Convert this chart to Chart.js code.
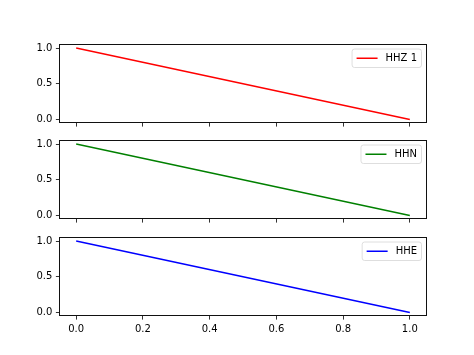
<!DOCTYPE html>
<html>
<head>
<meta charset="utf-8">
<script src="https://cdn.jsdelivr.net/npm/chart.js@4.4.1/dist/chart.umd.min.js"></script>
<style>
html,body{margin:0;padding:0;background:#fff;}
#wrap{position:relative;width:474px;height:355px;overflow:hidden;background:#fff;}
canvas{position:absolute;left:0;}
</style>
</head>
<body>
<div id="wrap">
<canvas id="c0"></canvas>
<canvas id="c1"></canvas>
<canvas id="c2"></canvas>
</div>
<script>
// ---- data ----
const xValues = [0, 1];
const hhzValues = [1, 0];
const hhnValues = [1, 0];
const heeValues = [1, 0];
const seriesLabels = ['HHZ 1', 'HHN', 'HHE'];
const seriesColors = ['#ff0000', '#008000', '#0000ff'];
const xTicks = [0, 0.2, 0.4, 0.6, 0.8, 1.0];
const yTicks = [0, 0.5, 1.0];
const seriesValues = [hhzValues, hhnValues, heeValues];

// ---- layout ----
const W = 474, H = 355;
const axLeft = 59.5, axRight = 426.5;
const panels = [[43, 123], [139, 219], [236, 316]];
const topPad = 8;
const FONT = '"DejaVu Sans", sans-serif';

const framePlugin = {
  id: 'frameLegend',
  afterDraw(chart) {
    const ctx = chart.ctx, ca = chart.chartArea;
    ctx.save();
    ctx.strokeStyle = '#111';
    ctx.lineWidth = 1;
    const l = Math.round(ca.left) - 0.5, t = Math.round(ca.top) - 0.5;
    const r = Math.round(ca.right) - 0.5, b = Math.round(ca.bottom) - 0.5;
    ctx.strokeRect(l, t, r - l, b - t);
    // legend
    const ds = chart.data.datasets[0];
    ctx.font = '10px ' + FONT;
    const tw = ctx.measureText(ds.label).width;
    const pad = 4.5, handle = 21, tpad = 8, h = 18.5;
    const w = pad + handle + tpad + tw + pad;
    const x = ca.right - 5 - w, y = ca.top + 4.5;
    ctx.beginPath();
    ctx.roundRect(x, y, w, h, 2.5);
    ctx.fillStyle = 'rgba(255,255,255,0.8)';
    ctx.fill();
    ctx.strokeStyle = '#d6d6d6';
    ctx.lineWidth = 0.8;
    ctx.stroke();
    const cy = y + h / 2;
    ctx.beginPath();
    ctx.moveTo(x + pad, cy);
    ctx.lineTo(x + pad + handle, cy);
    ctx.strokeStyle = ds.borderColor;
    ctx.lineWidth = 1.5;
    ctx.stroke();
    ctx.fillStyle = '#000';
    ctx.textBaseline = 'middle';
    ctx.textAlign = 'left';
    ctx.fillText(ds.label, x + pad + handle + tpad, cy + 0.5);
    ctx.restore();
  }
};

panels.forEach((p, i) => {
  const cv = document.getElementById('c' + i);
  const isLast = i === panels.length - 1;
  const canvasTop = Math.round(p[0] - topPad);
  const bottomExtra = isLast ? (H - p[1]) : 12;
  const ch = Math.round(p[1] - canvasTop + bottomExtra);
  cv.width = W; cv.height = ch;
  cv.style.top = canvasTop + 'px';
  cv.style.width = W + 'px'; cv.style.height = ch + 'px';
  const padTop = p[0] - canvasTop;
  const xAxisH = ch - padTop - (p[1] - p[0]);

  new Chart(cv, {
    type: 'line',
    data: {
      datasets: [{
        label: seriesLabels[i],
        data: xValues.map((x, k) => ({ x: x, y: seriesValues[i][k] })),
        borderColor: seriesColors[i],
        borderWidth: 1.5,
        pointRadius: 0,
        tension: 0,
        fill: false
      }]
    },
    options: {
      responsive: false,
      animation: false,
      devicePixelRatio: 1,
      layout: { padding: { top: padTop, left: 0, right: W - axRight, bottom: 0 } },
      plugins: { legend: { display: false }, tooltip: { enabled: false } },
      scales: {
        x: {
          type: 'linear',
          min: -0.05, max: 1.05,
          afterBuildTicks: s => { s.ticks = xTicks.map(v => ({ value: v })); },
          afterFit: s => { s.height = xAxisH; },
          grid: { drawOnChartArea: false, drawTicks: true, tickLength: 3.6, color: '#000', lineWidth: 0.8 },
          border: { display: false },
          ticks: {
            display: isLast,
            padding: 3.5,
            color: '#000',
            maxRotation: 0,
            autoSkip: false,
            font: { family: FONT, size: 10 },
            callback: v => Number(v).toFixed(1)
          }
        },
        y: {
          type: 'linear',
          min: -0.05, max: 1.05,
          afterBuildTicks: s => { s.ticks = yTicks.map(v => ({ value: v })); },
          afterFit: s => { s.width = axLeft; },
          grid: { drawOnChartArea: false, drawTicks: true, tickLength: 3.6, color: '#000', lineWidth: 0.8 },
          border: { display: false },
          ticks: {
            padding: 3.5,
            color: '#000',
            autoSkip: false,
            font: { family: FONT, size: 10 },
            callback: v => Number(v).toFixed(1)
          }
        }
      }
    },
    plugins: [framePlugin]
  });
});
</script>
</body>
</html>
